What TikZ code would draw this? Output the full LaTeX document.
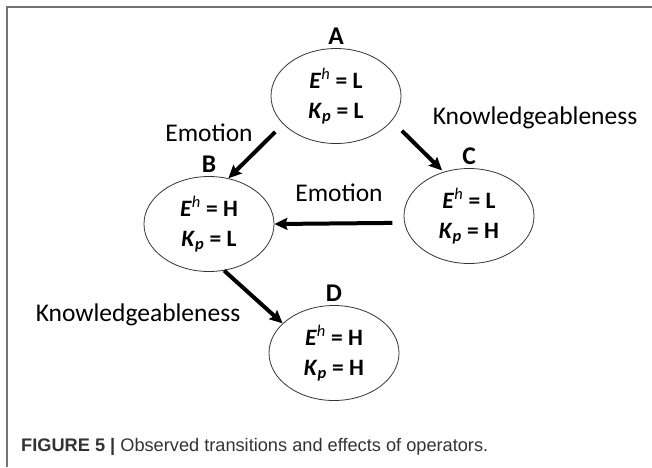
\documentclass[tikz,border=0pt]{standalone}
\usepackage{fontspec}
\setmainfont{Carlito}
\newfontfamily\capfont{Liberation Sans}
\usepackage{tikz}
\usetikzlibrary{calc,shapes,positioning}
\usetikzlibrary{arrows.meta}
\tikzset{>={Stealth[length=13pt,width=12pt,inset=2pt]}}
\definecolor{framegray}{gray}{0.45}
\definecolor{capgray}{gray}{0.2}
\newcommand{\eklines}[2]{\textbf{\textit{E}}\textsuperscript{\textit{h}}\textbf{ = #1}\\\textbf{\textit{K}\textsubscript{\textit{p}} = #2}}

\begin{document}
\begin{tikzpicture}[x=1pt,y=-1pt]
        \tikzstyle{snode} = [draw=black!80, line width=0.8pt, ellipse, minimum width=130pt, minimum height=95pt, inner sep=0pt, align=center, font=\fontsize{23.5}{30}\selectfont]
        \tikzstyle{tag} = [inner sep=1pt, font=\fontsize{25.5}{30}\selectfont\bfseries]
        \tikzstyle{lbl} = [inner sep=1pt, font=\fontsize{25.5}{30}\selectfont]
        \tikzstyle{arr} = [->, line width=4pt]
        \useasboundingbox (0,0) rectangle (652,467);
        % frame
        \draw[framegray, line width=1.8pt] (652,7) -- (7,7) -- (7,467);

        \node[snode] (A) at (336,96) {\eklines{L}{L}};
        \node[snode] (B) at (209,224) {\eklines{H}{L}};
        \node[snode] (C) at (469,216) {\eklines{L}{H}};
        \node[snode] (D) at (334,353) {\eklines{H}{H}};

        \node[tag, above=2pt of A] (tA) {A};
        \node[tag, above=2pt of B] (tB) {B};
        \node[tag, above=2pt of C] (tC) {C};
        \node[tag, above=2pt of D] (tD) {D};

        \node[lbl] (emo1) at (209,133) {Emotion};
        \node[lbl] (know1) at (535,118) {Knowledgeableness};
        \node[lbl] (emo2) at (339,193) {Emotion};
        \node[lbl] (know2) at (138,315) {Knowledgeableness};

        \draw[arr, shorten <=11pt] (A.208) to (B.67);
        \draw[arr, shorten <=14pt, shorten >=2pt] (A.336) to (C.120);
        \draw[arr, shorten <=12pt] (C.186) to (B.east);
        \draw[arr] (B.288) to (D.150);

        \node[anchor=west, inner sep=0pt, text=capgray, font=\capfont\fontsize{18.2}{22}\selectfont] (cap) at (21,447) {\textbf{FIGURE 5 |} Observed transitions and effects of operators.};
      \end{tikzpicture}
\end{document}
